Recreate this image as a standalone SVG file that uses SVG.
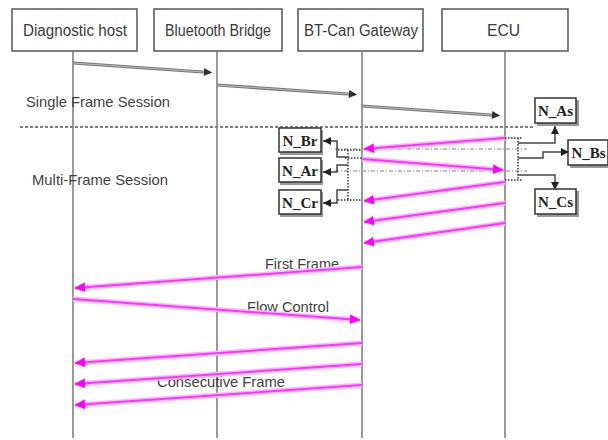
<svg xmlns="http://www.w3.org/2000/svg" width="608" height="440" viewBox="0 0 608 440">
<defs>
<style>
.hdr{fill:#fff;stroke:#555;stroke-width:1.5}
.life{stroke:#777;stroke-width:1.5;fill:none}
.ht{font-family:"Liberation Sans",Arial,sans-serif;font-size:16px;fill:#3a3a3a}
.lbl{font-family:"Liberation Sans",Arial,sans-serif;font-size:15px;fill:#3f3f3f}
.tbox{fill:#fff;stroke:#333;stroke-width:1.5}
.tsh{fill:#999}
.tt{font-family:"Liberation Serif","Times New Roman",serif;font-size:15px;font-weight:bold;fill:#222;text-anchor:middle}
.ghalo{stroke:#777;stroke-width:3.2;fill:none}
.gcore{stroke:#bbb;stroke-width:1;fill:none}
.phalo{stroke:#ffb8ff;stroke-width:5;fill:none}
.pcore{stroke:#ff33ff;stroke-width:2;fill:none}
.sep{stroke:#808080;stroke-width:2;stroke-dasharray:3,2;fill:none}
.dot{stroke:#333;stroke-width:1.5;stroke-dasharray:1.5,1.5;fill:none}
.faint{stroke:#aaa;stroke-width:1.5;stroke-dasharray:4,2,1,2;fill:none}
.tl{stroke:#444;stroke-width:1.5;fill:none}
</style>
<marker id="ga" viewBox="0 0 10 10" refX="10" refY="5" markerWidth="9" markerHeight="8" markerUnits="userSpaceOnUse" orient="auto"><path d="M0,0L10,5L0,10z" fill="#333"/></marker>
<marker id="pa" viewBox="0 0 10 10" refX="10" refY="5" markerWidth="10" markerHeight="10" markerUnits="userSpaceOnUse" orient="auto"><path d="M0,0L10,5L0,10z" fill="#f0f"/></marker>
<marker id="ta" viewBox="0 0 10 10" refX="10" refY="5" markerWidth="8" markerHeight="8" markerUnits="userSpaceOnUse" orient="auto"><path d="M0,0L10,5L0,10z" fill="#222"/></marker>
</defs>
<rect width="608" height="440" fill="#fff"/>

<g id="host">
<rect class="hdr" x="12" y="9" width="125" height="42"/>
<text class="ht" x="23" y="36" textLength="104" lengthAdjust="spacingAndGlyphs">Diagnostic host</text>
<line class="life" x1="73" y1="51" x2="73" y2="438"/>
</g>
<g id="bridge">
<rect class="hdr" x="154" y="9" width="128" height="42"/>
<text class="ht" x="165" y="36" textLength="106" lengthAdjust="spacingAndGlyphs">Bluetooth Bridge</text>
<line class="life" x1="217" y1="51" x2="217" y2="438"/>
</g>
<g id="gateway">
<rect class="hdr" x="298" y="9" width="125" height="42"/>
<text class="ht" x="304" y="36" textLength="114" lengthAdjust="spacingAndGlyphs">BT-Can Gateway</text>
<line class="life" x1="362" y1="51" x2="362" y2="438"/>
</g>
<g id="ecu">
<rect class="hdr" x="442" y="9" width="126" height="42"/>
<text class="ht" x="487" y="36" textLength="33" lengthAdjust="spacingAndGlyphs">ECU</text>
<line class="life" x1="505" y1="51" x2="505" y2="438"/>
</g>

<g id="labels">
<text class="lbl" x="26" y="107" textLength="144" lengthAdjust="spacingAndGlyphs">Single Frame Session</text>
<text class="lbl" x="32" y="185" textLength="136" lengthAdjust="spacingAndGlyphs">Multi-Frame Session</text>
<text class="lbl" x="265" y="269" textLength="74" lengthAdjust="spacingAndGlyphs">First Frame</text>
<text class="lbl" x="247" y="312" textLength="82" lengthAdjust="spacingAndGlyphs">Flow Control</text>
<text class="lbl" x="157" y="387" textLength="128" lengthAdjust="spacingAndGlyphs">Consecutive Frame</text>
</g>

<g id="connectors">
<line class="sep" x1="20" y1="127" x2="535" y2="127"/>
<!-- single frame -->
<line class="ghalo" x1="73" y1="63" x2="210" y2="72.5"/>
<line class="gcore" x1="73" y1="63" x2="212" y2="72.6" marker-end="url(#ga)"/>
<line class="ghalo" x1="217" y1="85" x2="355" y2="94.5"/>
<line class="gcore" x1="217" y1="85" x2="357" y2="94.6" marker-end="url(#ga)"/>
<line class="ghalo" x1="362" y1="106" x2="498" y2="115.5"/>
<line class="gcore" x1="362" y1="106" x2="500" y2="115.6" marker-end="url(#ga)"/>
<!-- faint dashed -->
<line class="faint" x1="335" y1="149" x2="527" y2="149"/>
<line class="faint" x1="335" y1="171" x2="527" y2="171"/>
<!-- multi-frame pink -->
<line class="phalo" x1="505" y1="138" x2="364" y2="149"/>
<line class="pcore" x1="505" y1="138" x2="364" y2="149" marker-end="url(#pa)"/>
<line class="phalo" x1="362" y1="159" x2="503" y2="170"/>
<line class="pcore" x1="362" y1="159" x2="503" y2="170" marker-end="url(#pa)"/>
<line class="phalo" x1="505" y1="182" x2="364" y2="201"/>
<line class="pcore" x1="505" y1="182" x2="364" y2="201" marker-end="url(#pa)"/>
<line class="phalo" x1="505" y1="203" x2="364" y2="222"/>
<line class="pcore" x1="505" y1="203" x2="364" y2="222" marker-end="url(#pa)"/>
<line class="phalo" x1="505" y1="223" x2="364" y2="243"/>
<line class="pcore" x1="505" y1="223" x2="364" y2="243" marker-end="url(#pa)"/>
<!-- lower pink -->
<line class="phalo" x1="362" y1="267" x2="75" y2="288"/>
<line class="pcore" x1="362" y1="267" x2="75" y2="288" marker-end="url(#pa)"/>
<line class="phalo" x1="73" y1="299" x2="360" y2="320"/>
<line class="pcore" x1="73" y1="299" x2="360" y2="320" marker-end="url(#pa)"/>
<line class="phalo" x1="362" y1="343" x2="75" y2="363"/>
<line class="pcore" x1="362" y1="343" x2="75" y2="363" marker-end="url(#pa)"/>
<line class="phalo" x1="362" y1="364" x2="75" y2="384"/>
<line class="pcore" x1="362" y1="364" x2="75" y2="384" marker-end="url(#pa)"/>
<line class="phalo" x1="362" y1="385" x2="75" y2="405"/>
<line class="pcore" x1="362" y1="385" x2="75" y2="405" marker-end="url(#pa)"/>
<!-- right timer links -->
<line class="dot" x1="505" y1="138" x2="522" y2="138"/>
<line class="dot" x1="505" y1="180" x2="522" y2="180"/>
<line class="dot" x1="518" y1="138" x2="518" y2="180"/>
<path class="tl" d="M518,143H555V126" marker-end="url(#ta)"/>
<path class="tl" d="M518,158H543V152H569" marker-end="url(#ta)"/>
<path class="tl" d="M518,175H555V190" marker-end="url(#ta)"/>
<!-- left timer links -->
<line class="dot" x1="338" y1="150" x2="362" y2="150"/>
<line class="dot" x1="345" y1="158" x2="362" y2="158"/>
<line class="dot" x1="338" y1="200" x2="362" y2="200"/>
<line class="dot" x1="348" y1="150" x2="348" y2="200"/>
<path class="tl" d="M348,157H337V141H323" marker-end="url(#ta)"/>
<path class="tl" d="M348,165H337V172H323" marker-end="url(#ta)"/>
<path class="tl" d="M348,190H337V203H323" marker-end="url(#ta)"/>
</g>

<g id="N_As">
<rect class="tsh" x="537" y="100" width="42" height="26"/>
<rect class="tbox" x="535" y="98" width="41" height="25"/>
<text class="tt" x="555.5" y="116">N_As</text>
</g>
<g id="N_Bs">
<rect class="tsh" x="570" y="142" width="40" height="26"/>
<rect class="tbox" x="568" y="140" width="40" height="25"/>
<text class="tt" x="588.5" y="158">N_Bs</text>
</g>
<g id="N_Cs">
<rect class="tsh" x="537" y="191" width="42" height="26"/>
<rect class="tbox" x="535" y="189" width="41" height="25"/>
<text class="tt" x="555.5" y="207">N_Cs</text>
</g>
<g id="N_Br">
<rect class="tsh" x="280" y="130" width="43" height="25"/>
<rect class="tbox" x="279" y="128" width="42" height="24"/>
<text class="tt" x="300" y="146">N_Br</text>
</g>
<g id="N_Ar">
<rect class="tsh" x="280" y="160" width="43" height="25"/>
<rect class="tbox" x="279" y="158" width="42" height="24"/>
<text class="tt" x="300" y="176">N_Ar</text>
</g>
<g id="N_Cr">
<rect class="tsh" x="280" y="192" width="43" height="25"/>
<rect class="tbox" x="279" y="190" width="42" height="24"/>
<text class="tt" x="300" y="208">N_Cr</text>
</g>
</svg>
